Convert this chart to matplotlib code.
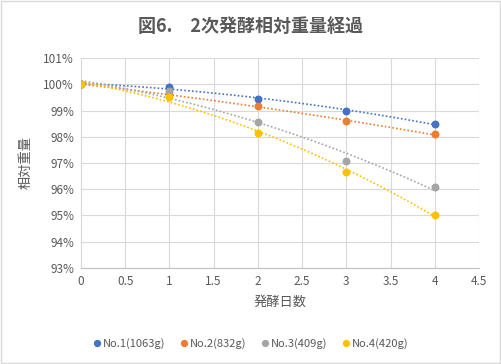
import numpy as np
import matplotlib
matplotlib.use("Agg")
import matplotlib.pyplot as plt
from matplotlib.ticker import FuncFormatter, MultipleLocator
from matplotlib.patches import Rectangle

plt.rcParams['font.family'] = ['Noto Sans CJK JP', 'DejaVu Sans']

days = [0, 1, 2, 3, 4]
labels = ["No.1(1063g)", "No.2(832g)", "No.3(409g)", "No.4(420g)"]
no1 = [100.0, 99.92, 99.46, 98.97, 98.50]
no2 = [100.0, 99.63, 99.16, 98.59, 98.09]
no3 = [100.0, 99.76, 98.55, 97.08, 96.09]
no4 = [100.0, 99.54, 98.13, 96.66, 95.02]
series = [no1, no2, no3, no4]
colors = ["#4472C4", "#ED7D31", "#A5A5A5", "#FFC000"]

txt = "#595959"
fig = plt.figure(figsize=(5.02, 3.64), dpi=100)
fig.patches.append(Rectangle((0.002, 0.003), 0.995, 0.994, transform=fig.transFigure,
                             fill=False, edgecolor="#D9D9D9", linewidth=1))
ax = fig.add_axes([0.1614, 0.2646, 0.9542 - 0.1614, 0.8398 - 0.2646])

xs = np.linspace(0, 4, 100)
for vals, c, lab in zip(series, colors, labels):
    coef = np.polyfit(days, vals, 2)
    ax.plot(xs, np.polyval(coef, xs), linestyle=(0, (1, 1.3)), color=c, linewidth=1.2, zorder=2)
    ax.plot(days, vals, 'o', color=c, markersize=4.7, label=lab, zorder=3)

ax.set_xlim(0, 4.5)
ax.set_ylim(93, 101)
ax.xaxis.set_major_locator(MultipleLocator(0.5))
ax.yaxis.set_major_locator(MultipleLocator(1))
ax.xaxis.set_major_formatter(FuncFormatter(lambda v, p: f"{v:g}"))
ax.yaxis.set_major_formatter(FuncFormatter(lambda v, p: f"{v:.0f}%"))
ax.grid(True, color="#D9D9D9", linewidth=0.8)
ax.set_axisbelow(True)
for s in ["top", "right"]:
    ax.spines[s].set_visible(False)
ax.spines["left"].set_color("#D9D9D9")
ax.spines["bottom"].set_color("#BFBFBF")
ax.tick_params(length=0, labelsize=8.5, labelcolor=txt, pad=5)

ax.set_xlabel("発酵日数", fontsize=9.5, color=txt, labelpad=6)
ax.set_ylabel("相対重量", fontsize=9.5, color=txt, labelpad=8)
fig.text(0.5, 0.926, "図6.　2次発酵相対重量経過", ha="center", va="center",
         fontsize=13, fontweight="bold", color=txt)

leg = fig.legend(loc="center", bbox_to_anchor=(0.5, 0.055), ncol=4, frameon=False,
                 fontsize=8, handlelength=0.6, handletextpad=0.2, columnspacing=1.4,
                 markerscale=0.9)
for t in leg.get_texts():
    t.set_color(txt)

fig.savefig("out.png", dpi=100)
